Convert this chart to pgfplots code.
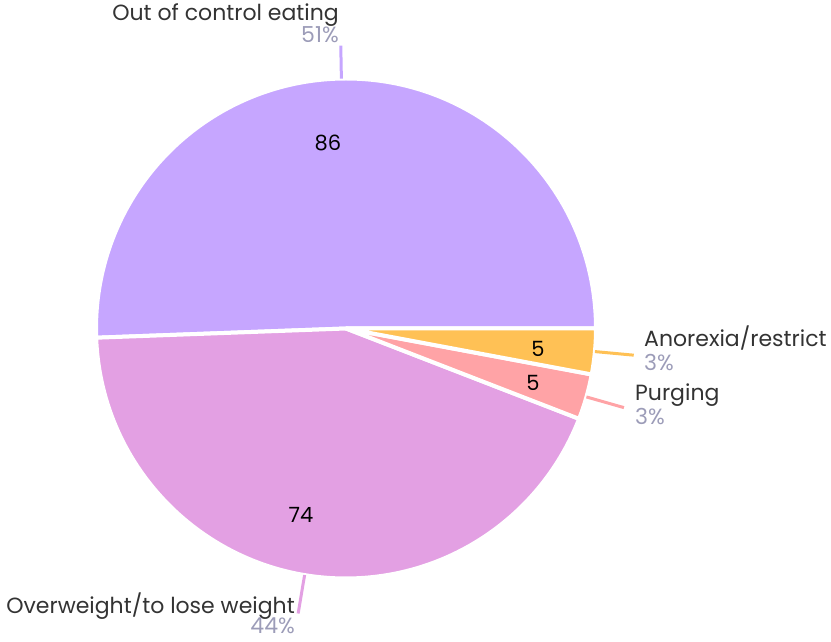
\documentclass[border=0pt]{standalone}
\usepackage{pgfplots}
\pgfplotsset{compat=1.18}
\usepackage{pgfplotstable}
\usepackage{fontspec}
\setmainfont{Poppins}
\definecolor{cA}{HTML}{C6A6FF}
\definecolor{cB}{HTML}{E3A0E3}
\definecolor{cC}{HTML}{FFA3A6}
\definecolor{cD}{HTML}{FFC155}
\definecolor{txt}{HTML}{333333}
\definecolor{pct}{HTML}{9C9CB8}

% slices counter-clockwise from 3 o'clock; lx ly = position of the value label
\pgfplotstableread{
name value lx ly
A 86 328 498
B 74 301 126
C 5 533 258
D 5 538 292
}\piedata

\begin{document}
\begin{tikzpicture}
\pgfplotstablegetelem{0}{value}\of\piedata \let\vA\pgfplotsretval
\pgfplotstablegetelem{1}{value}\of\piedata \let\vB\pgfplotsretval
\pgfplotstablegetelem{2}{value}\of\piedata \let\vC\pgfplotsretval
\pgfplotstablegetelem{3}{value}\of\piedata \let\vD\pgfplotsretval
\pgfmathsetmacro\tot{\vA+\vB+\vC+\vD}
\pgfmathsetmacro\fA{\vA/\tot}
\pgfmathsetmacro\fB{\vB/\tot}
\pgfmathsetmacro\fC{\vC/\tot}
\pgfmathsetmacro\fD{\vD/\tot}
\pgfmathsetmacro\eA{360*\fA}
\pgfmathsetmacro\eB{\eA+360*\fB}
\pgfmathsetmacro\eC{\eB+360*\fC}
\pgfmathsetmacro\eD{360}
\pgfmathsetmacro\mA{\eA/2}
\pgfmathsetmacro\mB{(\eA+\eB)/2}
\pgfmathsetmacro\mC{(\eB+\eC)/2}
\pgfmathsetmacro\mD{(\eC+\eD)/2}
\pgfmathtruncatemacro\pA{round(100*\fA)}
\pgfmathtruncatemacro\pB{round(100*\fB)}
\pgfmathtruncatemacro\pC{round(100*\fC)}
\pgfmathtruncatemacro\pD{round(100*\fD)}
\begin{axis}[hide axis, x=1pt, y=1pt, disabledatascaling, scale only axis,
  xmin=0, xmax=831, ymin=0, ymax=641, clip=false, anchor=south west, at={(0,0)}]
\path (axis cs:0,0) rectangle (axis cs:831,641);
\def\R{250pt}
\fill[cA, draw=white, line width=4pt, line join=round] (axis cs:346,312.5) -- ++(0:\R) arc[start angle=0, end angle=\eA, radius=\R] -- cycle;
\fill[cB, draw=white, line width=4pt, line join=round] (axis cs:346,312.5) -- ++(\eA:\R) arc[start angle=\eA, end angle=\eB, radius=\R] -- cycle;
\fill[cC, draw=white, line width=4pt, line join=round] (axis cs:346,312.5) -- ++(\eB:\R) arc[start angle=\eB, end angle=\eC, radius=\R] -- cycle;
\fill[cD, draw=white, line width=4pt, line join=round] (axis cs:346,312.5) -- ++(\eC:\R) arc[start angle=\eC, end angle=\eD, radius=\R] -- cycle;
% leader lines
\draw[cA, line width=3pt] (axis cs:346,312.5) ++(\mA:250pt) -- ++(\mA:33pt);
\draw[cB, line width=3pt] (axis cs:346,312.5) ++(\mB:250pt) -- ++(\mB:39pt);
\draw[cC, line width=3pt] (axis cs:346,312.5) ++(\mC:250pt) -- ++(\mC:39pt);
\draw[cD, line width=3pt] (axis cs:346,312.5) ++(\mD:250pt) -- ++(\mD:39pt);
% value labels
\addplot[draw=none, mark=none, nodes near coords, point meta=explicit symbolic,
  nodes near coords style={anchor=center, font=\fontsize{21}{25}\selectfont, text=black}]
  table[x=lx, y=ly, meta=value]{\piedata};
% category labels
\tikzset{lab/.style={font=\fontsize{22}{26}\selectfont, text=txt, inner sep=0pt},
         pc/.style={font=\fontsize{22}{26}\selectfont, text=pct, inner sep=0pt}}
\node[lab, anchor=base east] at (axis cs:339,620) {Out of control eating};
\node[pc, anchor=base east] at (axis cs:339,598) {\pA\%};
\node[lab, anchor=base east] at (axis cs:295,28) {Overweight/to lose weight};
\node[pc, anchor=base east] at (axis cs:295,8) {\pB\%};
\node[lab, anchor=base west] at (axis cs:635,240) {Purging};
\node[pc, anchor=base west] at (axis cs:635,216) {\pC\%};
\node[lab, anchor=base west] at (axis cs:644,294) {Anorexia/restrict};
\node[pc, anchor=base west] at (axis cs:644,270) {\pD\%};
\end{axis}
\end{tikzpicture}
\end{document}
